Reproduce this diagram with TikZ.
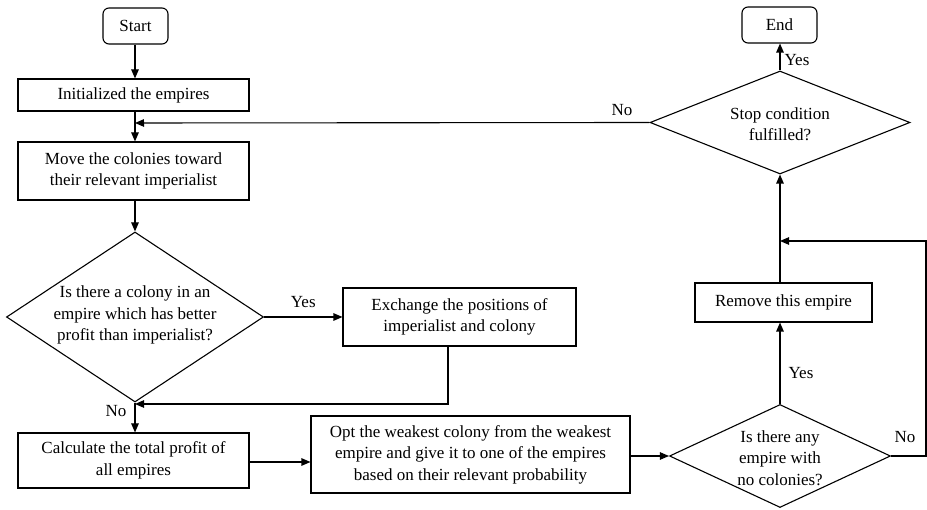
\documentclass[tikz,border=0pt]{standalone}
\usepackage{fontspec}
\setmainfont{Liberation Serif}[Ligatures=TeX]
\usetikzlibrary{shapes.geometric,arrows.meta}
\begin{document}
\begin{tikzpicture}[x=1pt,y=-1pt,
  font=\rmfamily\fontsize{17}{21.5}\selectfont,
  box/.style={draw,line width=1.1pt,align=center,inner sep=0pt},
  term/.style={box,rounded corners=6pt},
  dec/.style={draw,line width=1.1pt,diamond,inner sep=0pt},
  dtext/.style={align=center,inner sep=0pt},
  arr/.style={line width=1.1pt,-{Triangle[length=9pt,width=7.5pt]}},
  lbl/.style={inner sep=0pt}]
\useasboundingbox (0,0) rectangle (927,510);

\node[term,minimum width=65pt,minimum height=36pt] (start) at (135.5,26) {Start};
\node[box,minimum width=231pt,minimum height=32pt] (init) at (133.5,95) {Initialized the empires};
\node[box,minimum width=231pt,minimum height=58pt] (move) at (133.5,171) {Move the colonies toward\\their relevant imperialist};
\node[dec,minimum width=257pt,minimum height=170pt] (d1) at (135,317) {};
\node[dtext] (d1t) at (135,315) {Is there a colony in an\\empire which has better\\profit than imperialist?};
\node[box,minimum width=233pt,minimum height=58pt] (exch) at (459.5,317) {Exchange the positions of\\imperialist and colony};
\node[box,minimum width=231pt,minimum height=55pt] (calc) at (133.5,460.5) {Calculate the total profit of\\all empires};
\node[box,minimum width=319pt,minimum height=77pt] (opt) at (470.5,454.5) {Opt the weakest colony from the weakest\\empire and give it to one of the empires\\based on their relevant probability};
\node[dec,minimum width=221pt,minimum height=103pt] (d3) at (780,456) {};
\node[dtext] (d3t) at (780,458) {Is there any\\empire with\\no colonies?};
\node[box,minimum width=177pt,minimum height=39pt] (remove) at (783.5,302.5) {Remove this empire};
\node[dec,minimum width=260pt,minimum height=103pt] (d2) at (780,122.5) {};
\node[dtext] (d2t) at (780,124) {Stop condition\\fulfilled?};
\node[term,minimum width=75pt,minimum height=36pt] (end) at (779.5,25) {End};

\coordinate (j1) at (135,404);
\coordinate (j2) at (780,241);
\coordinate (j3) at (135,123);
\coordinate (rr) at (926,241);

\draw[arr] (start.south -| d1.north) -- (init.north -| d1.north);
\draw[arr] (init.south -| d1.north) -- (move.north -| d1.north);
\draw[arr] (move.south -| d1.north) -- (d1.north);
\draw[arr] (d1.east) -- (exch.west) node[lbl,midway,above=9pt] {Yes};
\draw[arr] ([xshift=-11.5pt]exch.south) |- (j1);
\draw[arr] (d1.south) -- (d1.south |- calc.north);
\node[lbl] (no1) at (116,411) {No};
\draw[arr] (calc.east |- 0,462) -- (opt.west |- 0,462);
\draw[arr] (opt.east |- d3.west) -- (d3.west);
\draw[arr] (d3.north) -- (d3.north |- remove.south);
\node[lbl] (yes3) at (801,373) {Yes};
\draw[arr] (d3.east) -| (rr) -- (j2);
\node[lbl] (no3) at (905,437) {No};
\draw[arr] (remove.north -| d2.south) -- (d2.south);
\draw[arr] (d2.north) -- (d2.north |- end.south);
\node[lbl] (yes2) at (797,60) {Yes};
\draw[arr] (d2.west) -- (j3);
\node[lbl] (no2) at (622,110) {No};
\end{tikzpicture}
\end{document}
